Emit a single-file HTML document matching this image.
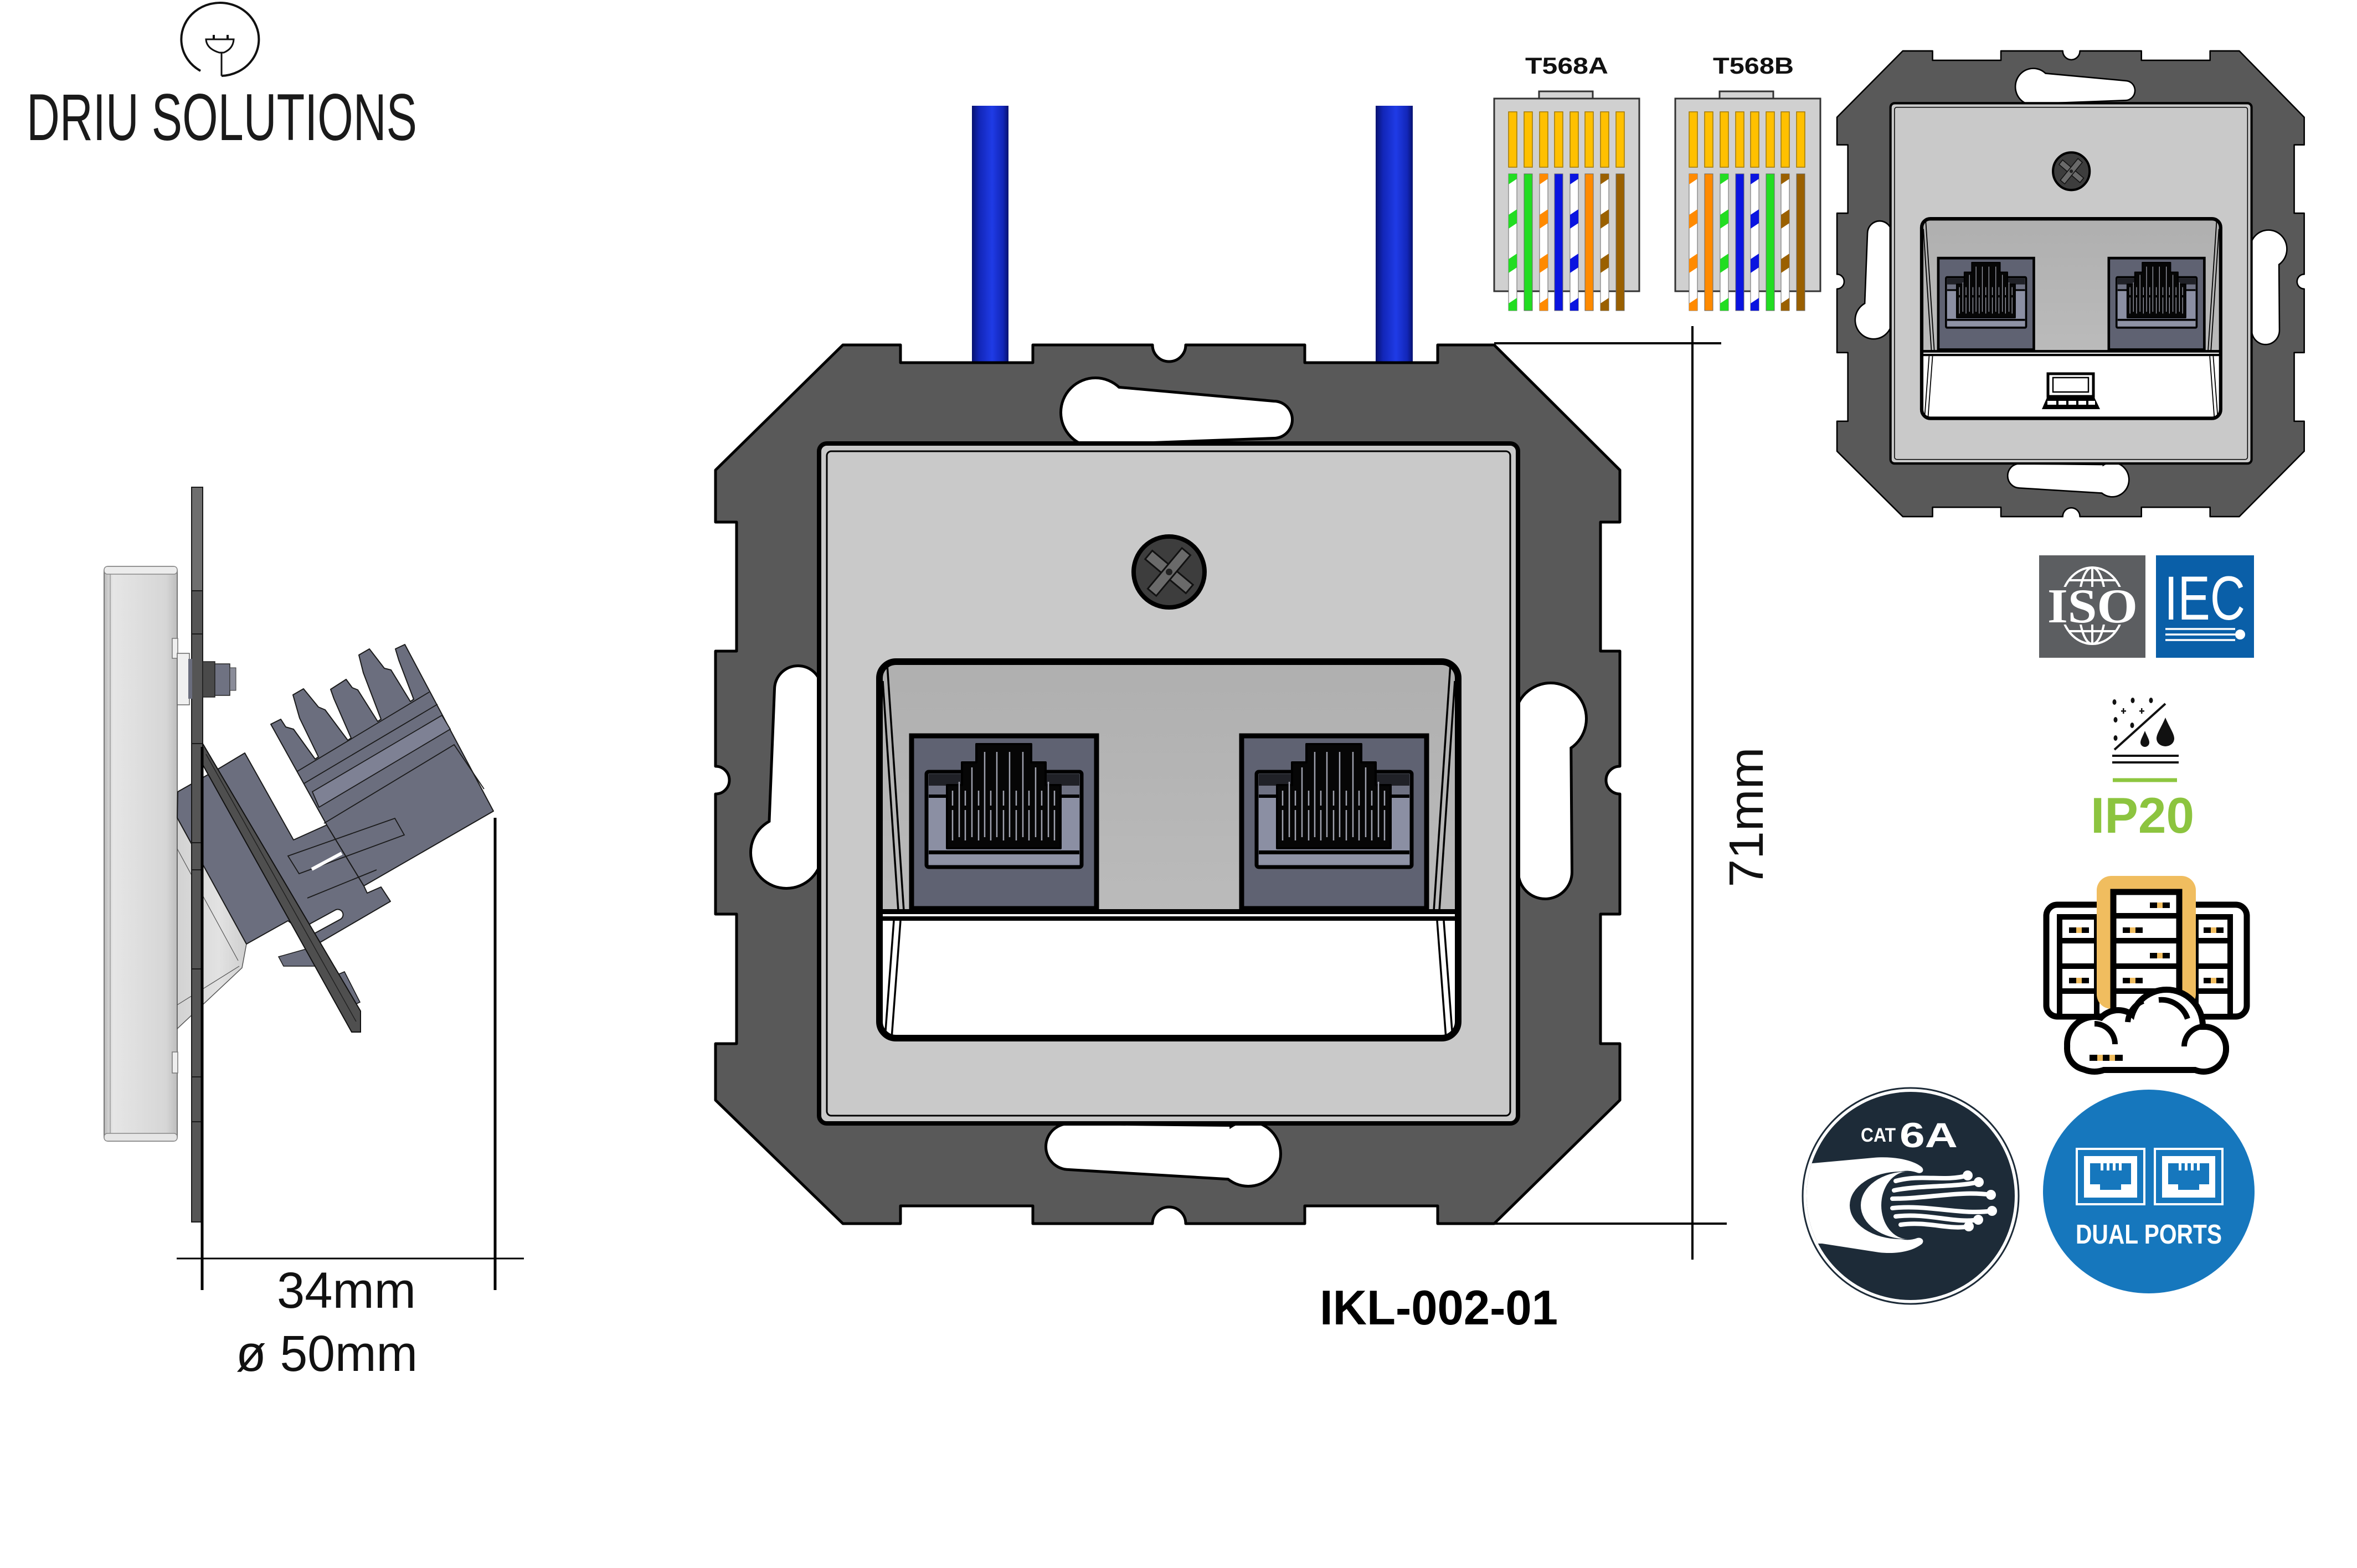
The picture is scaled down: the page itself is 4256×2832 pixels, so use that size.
<!DOCTYPE html>
<html><head><meta charset="utf-8"><title>IKL-002-01</title>
<style>
html,body{margin:0;padding:0;background:#fff;width:4256px;height:2832px;overflow:hidden;}
svg{display:block;}
text{font-family:"Liberation Sans",sans-serif;}
</style></head><body>
<svg xmlns="http://www.w3.org/2000/svg" width="4256" height="2832" viewBox="0 0 4256 2832">
<defs>
<linearGradient id="wb" x1="0" y1="0" x2="1" y2="0">
<stop offset="0" stop-color="#081270"/><stop offset="0.2" stop-color="#1226b8"/><stop offset="0.55" stop-color="#1f3be6"/><stop offset="0.85" stop-color="#1226b8"/><stop offset="1" stop-color="#081270"/>
</linearGradient>
<linearGradient id="pb" x1="0" y1="0" x2="1" y2="0">
<stop offset="0" stop-color="#b9b9b9"/><stop offset="0.12" stop-color="#e6e6e6"/><stop offset="0.85" stop-color="#d6d6d6"/><stop offset="1" stop-color="#bdbdbd"/>
</linearGradient>
<linearGradient id="lt" x1="0" y1="0" x2="1" y2="0">
<stop offset="0" stop-color="#d2d2d2"/><stop offset="0.6" stop-color="#e2e2e2"/><stop offset="1" stop-color="#cfcfcf"/>
</linearGradient>
<linearGradient id="rg" x1="0" y1="0" x2="0" y2="1">
<stop offset="0" stop-color="#afafaf"/><stop offset="1" stop-color="#bbbbbb"/>
</linearGradient>
<pattern id="sG" patternUnits="userSpaceOnUse" x="0" y="370" width="15" height="80"><polygon points="0,18 15,8 15,33 0,43" fill="#22dd22"/></pattern>
<pattern id="sO" patternUnits="userSpaceOnUse" x="0" y="370" width="15" height="80"><polygon points="0,18 15,8 15,33 0,43" fill="#ff8a00"/></pattern>
<pattern id="sB" patternUnits="userSpaceOnUse" x="0" y="370" width="15" height="80"><polygon points="0,18 15,8 15,33 0,43" fill="#0a14e0"/></pattern>
<pattern id="sN" patternUnits="userSpaceOnUse" x="0" y="370" width="15" height="80"><polygon points="0,18 15,8 15,33 0,43" fill="#9a6000"/></pattern>
<clipPath id="rc"><rect x="1588" y="1195" width="1045" height="680" rx="30"/></clipPath>
<clipPath id="catclip"><circle cx="3450" cy="2160" r="188"/></clipPath>

<g id="port">
<rect x="1646" y="1329" width="334" height="312" fill="#5f6272" stroke="#000" stroke-width="9"/>
<rect x="1673" y="1394" width="280" height="172" rx="4" fill="#8b8fa3" stroke="#000" stroke-width="7"/>
<rect x="1677" y="1398" width="272" height="21" fill="#202127"/>
<rect x="1677" y="1419" width="272" height="16" fill="#6e7182"/>
<rect x="1677" y="1435" width="272" height="6" fill="#000"/>
<rect x="1677" y="1536" width="272" height="7" fill="#000"/>
<rect x="1677" y="1543" width="272" height="16" fill="#8e92a5"/>
<path d="M1710,1532 L1710,1418 L1737,1418 L1737,1377 L1763,1377 L1763,1344 L1862,1344 L1862,1377 L1888,1377 L1888,1418 L1915,1418 L1915,1532 Z" fill="#060606" stroke="#000" stroke-width="4" stroke-linejoin="round"/>
<g stroke="#9fa1ae" stroke-width="2.5">
<line x1="1732" y1="1412" x2="1732" y2="1512"/>
<line x1="1755" y1="1386" x2="1755" y2="1512"/>
<line x1="1778" y1="1358" x2="1778" y2="1512"/>
<line x1="1800" y1="1358" x2="1800" y2="1512"/>
<line x1="1823" y1="1358" x2="1823" y2="1512"/>
<line x1="1847" y1="1358" x2="1847" y2="1512"/>
<line x1="1870" y1="1386" x2="1870" y2="1512"/>
<line x1="1893" y1="1412" x2="1893" y2="1512"/>
</g>
<g stroke="#9fa1ae" stroke-width="2.5" stroke-dasharray="27 8 55 200">
<line x1="1720" y1="1428" x2="1720" y2="1518"/>
<line x1="1743" y1="1428" x2="1743" y2="1518"/>
<line x1="1767" y1="1428" x2="1767" y2="1518"/>
<line x1="1789" y1="1428" x2="1789" y2="1518"/>
<line x1="1812" y1="1428" x2="1812" y2="1518"/>
<line x1="1835" y1="1428" x2="1835" y2="1518"/>
<line x1="1858" y1="1428" x2="1858" y2="1518"/>
<line x1="1881" y1="1428" x2="1881" y2="1518"/>
<line x1="1904" y1="1428" x2="1904" y2="1518"/>
</g>
</g>

<g id="dev">
<path d="M1522,623 L1626,623 L1626,655 L1865,655 L1865,623 L2081,623 A30,30 0 0 0 2141,623 L2356,623 L2356,655 L2596,655 L2596,623 L2698,623 L2925,849 L2925,943 L2890,943 L2890,1176 L2925,1176 L2925,1384 A25,25 0 0 0 2925,1434 L2925,1651 L2890,1651 L2890,1885 L2925,1885 L2925,1987 L2698,2210 L2596,2210 L2596,2178 L2356,2178 L2356,2210 L2141,2210 A30,30 0 0 0 2081,2210 L1865,2210 L1865,2178 L1626,2178 L1626,2210 L1522,2210 L1292,1987 L1292,1885 L1330,1885 L1330,1651 L1292,1651 L1292,1434 A25,25 0 0 0 1292,1384 L1292,1176 L1330,1176 L1330,943 L1292,943 L1292,849 Z" fill="#595959" stroke="#000" stroke-width="5" stroke-linejoin="round"/>
<g fill="#fff" stroke="#000" stroke-width="10">
<circle cx="1978" cy="745" r="60"/>
<path d="M2000,700 L2300,727 A31,31 0 0 1 2300,789 L2000,800 Z"/>
<circle cx="2254" cy="2084" r="56"/>
<path d="M1930,2032 L2220,2035 L2230,2128 L1930,2110 A39,39 0 0 1 1930,2032 Z"/>
<circle cx="1420" cy="1540" r="62"/>
<path d="M1401,1245 A40,40 0 0 1 1481,1245 L1481,1540 L1390,1520 Z"/>
<circle cx="2800" cy="1298" r="62"/>
<path d="M2740,1298 L2834,1310 L2836,1575 A46,46 0 0 1 2744,1575 Z"/>
</g>
<g fill="#fff">
<circle cx="1978" cy="745" r="60"/>
<path d="M2000,700 L2300,727 A31,31 0 0 1 2300,789 L2000,800 Z"/>
<circle cx="2254" cy="2084" r="56"/>
<path d="M1930,2032 L2220,2035 L2230,2128 L1930,2110 A39,39 0 0 1 1930,2032 Z"/>
<circle cx="1420" cy="1540" r="62"/>
<path d="M1401,1245 A40,40 0 0 1 1481,1245 L1481,1540 L1390,1520 Z"/>
<circle cx="2800" cy="1298" r="62"/>
<path d="M2740,1298 L2834,1310 L2836,1575 A46,46 0 0 1 2744,1575 Z"/>
</g>
<rect x="1479" y="801" width="1262" height="1228" rx="14" fill="#c9c9c9" stroke="#000" stroke-width="8"/>
<rect x="1493" y="815" width="1234" height="1200" rx="8" fill="none" stroke="#000" stroke-width="3"/>
<circle cx="2111" cy="1033" r="64" fill="#3d3d3d" stroke="#000" stroke-width="8"/>
<g transform="translate(2111,1033) rotate(40)">
<rect x="-48" y="-10" width="96" height="20" fill="#6a6a6a" stroke="#111" stroke-width="3"/>
<rect x="-10" y="-48" width="20" height="96" fill="#6a6a6a" stroke="#111" stroke-width="3"/>
<circle cx="0" cy="0" r="6" fill="#222"/>
</g>
<g clip-path="url(#rc)">
<rect x="1580" y="1190" width="1060" height="460" fill="url(#rg)"/>
<rect x="1580" y="1650" width="1060" height="240" fill="#fff"/>
<rect x="1580" y="1642" width="1060" height="9" fill="#000"/>
<rect x="1580" y="1655" width="1060" height="8" fill="#000"/>
<g stroke="#000" stroke-width="3.5" fill="none">
<line x1="1602" y1="1200" x2="1632" y2="1645"/>
<line x1="1594" y1="1230" x2="1622" y2="1645"/>
<line x1="1626" y1="1663" x2="1610" y2="1875"/>
<line x1="1614" y1="1663" x2="1598" y2="1875"/>
<line x1="2619" y1="1200" x2="2589" y2="1645"/>
<line x1="2627" y1="1230" x2="2599" y2="1645"/>
<line x1="2595" y1="1663" x2="2611" y2="1875"/>
<line x1="2607" y1="1663" x2="2623" y2="1875"/>
</g>
</g>
<use href="#port"/>
<use href="#port" x="596"/>
<rect x="1588" y="1195" width="1045" height="680" rx="30" fill="none" stroke="#000" stroke-width="12"/>
</g>
</defs>

<!-- LOGO -->
<path d="M400,137 A70,66 0 1 0 362,128" fill="none" stroke="#111" stroke-width="4"/>
<path d="M372,71 L422,71 Q421,88 404,95 L396,95 Q373,88 372,71 Z" fill="none" stroke="#111" stroke-width="3"/>
<line x1="386" y1="63" x2="386" y2="71" stroke="#111" stroke-width="4"/>
<line x1="411" y1="63" x2="411" y2="71" stroke="#111" stroke-width="4"/>
<line x1="400" y1="95" x2="400" y2="137" stroke="#111" stroke-width="3"/>
<text x="48" y="253" font-size="120" fill="#1a1a1a" textLength="705" lengthAdjust="spacingAndGlyphs">DRIU SOLUTIONS</text>

<!-- SIDE VIEW -->
<rect x="188" y="1023" width="132" height="1038" rx="8" fill="url(#pb)" stroke="#777" stroke-width="2"/>
<line x1="199" y1="1030" x2="199" y2="2054" stroke="#999" stroke-width="1.5"/>
<rect x="188" y="1023" width="132" height="14" rx="6" fill="#ececec" stroke="#888" stroke-width="1.5"/>
<rect x="188" y="2047" width="132" height="14" rx="6" fill="#e6e6e6" stroke="#888" stroke-width="1.5"/>
<rect x="311" y="1153" width="10" height="36" fill="#eee" stroke="#777" stroke-width="1.5"/>
<rect x="311" y="1900" width="10" height="38" fill="#eee" stroke="#777" stroke-width="1.5"/>
<rect x="320" y="1180" width="22" height="93" fill="#f0f0f0" stroke="#666" stroke-width="1.5"/>
<polygon points="320,1477 445,1705 437,1748 320,1858" fill="url(#lt)" stroke="#555" stroke-width="1.5"/>
<line x1="320" y1="1533" x2="430" y2="1735" stroke="#555" stroke-width="1.2"/>
<line x1="320" y1="1815" x2="432" y2="1745" stroke="#555" stroke-width="1.2"/>
<polygon points="321,1430 397,1387 442,1360 530,1517 590,1490 657,1600 663,1613 688,1602 705,1628 573,1705 520,1663 445,1705 320,1477" fill="#6b6e7e" stroke="#1a1a1a" stroke-width="2" stroke-linejoin="round"/>
<polygon points="503,1728 567,1710 570,1745 512,1745" fill="#6b6e7e" stroke="#1a1a1a" stroke-width="1.5"/>
<polygon points="489,1308 507,1299 516,1313 530,1317 569,1371 575,1367 541,1297 529,1255 548,1244 575,1277 587,1282 628,1337 634,1333 603,1262 597,1245 625,1227 636,1242 646,1246 682,1303 688,1299 656,1215 648,1183 667,1172 694,1207 706,1210 741,1267 747,1263 720,1192 714,1172 731,1164 891,1465 657,1600 590,1490" fill="#6b6e7e" stroke="#1a1a1a" stroke-width="2" stroke-linejoin="round"/>
<g stroke="#1a1a1a" stroke-width="1.8" fill="none">
<line x1="537" y1="1393" x2="775" y2="1250"/>
<line x1="549" y1="1415" x2="790" y2="1272"/>
<polygon points="564,1430 798,1292 813,1317 576,1458" fill="#7e8194"/>
<polyline points="585,1487 820,1345 874,1425"/>
<polygon points="520,1546 713,1478 730,1508 540,1578"/>
<line x1="555" y1="1622" x2="680" y2="1571"/>
</g>
<line x1="563" y1="1570" x2="617" y2="1541" stroke="#fff" stroke-width="6"/>
<line x1="566" y1="1676" x2="610" y2="1652" stroke="#1a1a1a" stroke-width="21" stroke-linecap="round"/>
<line x1="566" y1="1676" x2="610" y2="1652" stroke="#fff" stroke-width="17" stroke-linecap="round"/>
<rect x="346" y="880" width="20" height="1327" fill="#555" stroke="#1a1a1a" stroke-width="2"/>
<rect x="346" y="880" width="20" height="187" fill="#6e6e6e" stroke="#1a1a1a" stroke-width="2"/>
<g stroke="#1a1a1a" stroke-width="2">
<line x1="346" y1="1145" x2="366" y2="1145"/>
<line x1="346" y1="1343" x2="366" y2="1343"/>
<line x1="346" y1="1522" x2="366" y2="1522"/>
<line x1="346" y1="1571" x2="366" y2="1571"/>
<line x1="346" y1="1750" x2="366" y2="1750"/>
<line x1="346" y1="1945" x2="366" y2="1945"/>
<line x1="346" y1="2026" x2="366" y2="2026"/>
</g>
<polygon points="603,1763 622,1755 650,1810 635,1817" fill="#6b6e7e" stroke="#111" stroke-width="1.5"/>
<polygon points="366,1343 651,1826 651,1864 635,1864 366,1381" fill="#4f4f4f" stroke="#111" stroke-width="2"/>
<line x1="372" y1="1362" x2="643" y2="1845" stroke="#222" stroke-width="1.5"/>
<rect x="340" y="1190" width="7" height="72" fill="#6a6d7d"/>
<rect x="366" y="1195" width="22" height="64" fill="#4a4a4a" stroke="#222" stroke-width="1.5"/>
<rect x="388" y="1199" width="27" height="57" fill="#6f7282" stroke="#222" stroke-width="1.5"/>
<rect x="415" y="1206" width="11" height="41" fill="#8a8c99" stroke="#333" stroke-width="1"/>
<line x1="365" y1="1349" x2="365" y2="2330" stroke="#000" stroke-width="5"/>
<line x1="894" y1="1477" x2="894" y2="2330" stroke="#000" stroke-width="5"/>
<line x1="319" y1="2273" x2="946" y2="2273" stroke="#000" stroke-width="3"/>
<text x="500" y="2362" font-size="92" fill="#111" textLength="251" lengthAdjust="spacingAndGlyphs">34mm</text>
<text x="426" y="2476" font-size="92" fill="#111" textLength="328" lengthAdjust="spacingAndGlyphs">ø 50mm</text>

<!-- MAIN FRONT VIEW -->
<rect x="1755" y="191" width="66" height="470" fill="url(#wb)"/>
<rect x="2484" y="191" width="67" height="470" fill="url(#wb)"/>
<use href="#dev"/>
<g stroke="#000" stroke-width="4">
<line x1="2698" y1="620" x2="3108" y2="620"/>
<line x1="2698" y1="2210" x2="3118" y2="2210"/>
<line x1="3056" y1="589" x2="3056" y2="2275"/>
</g>
<text transform="translate(3183,1476) rotate(-90)" text-anchor="middle" font-size="87" fill="#111" textLength="253" lengthAdjust="spacingAndGlyphs">71mm</text>
<text x="2383" y="2392" font-size="88" font-weight="bold" fill="#000" textLength="430" lengthAdjust="spacingAndGlyphs">IKL-002-01</text>

<!-- T568 -->
<text x="2829" y="133" font-size="42" font-weight="bold" text-anchor="middle" fill="#111" textLength="150" lengthAdjust="spacingAndGlyphs">T568A</text>
<text x="3166" y="133" font-size="42" font-weight="bold" text-anchor="middle" fill="#111" textLength="146" lengthAdjust="spacingAndGlyphs">T568B</text>
<rect x="2779" y="165" width="97" height="14" fill="#d4d4d4" stroke="#333" stroke-width="3"/>
<rect x="2698" y="178" width="262" height="348" fill="#d0d0d0" stroke="#333" stroke-width="3"/>
<rect x="3105" y="165" width="97" height="14" fill="#d4d4d4" stroke="#333" stroke-width="3"/>
<rect x="3025" y="178" width="262" height="348" fill="#d0d0d0" stroke="#333" stroke-width="3"/>
<g fill="#ffc000" stroke="#a07800" stroke-width="1.5">
<rect x="2724" y="202" width="15" height="100"/><rect x="2752" y="202" width="15" height="100"/><rect x="2780" y="202" width="15" height="100"/><rect x="2807" y="202" width="15" height="100"/><rect x="2835" y="202" width="15" height="100"/><rect x="2862" y="202" width="15" height="100"/><rect x="2890" y="202" width="15" height="100"/><rect x="2918" y="202" width="15" height="100"/>
<rect x="3050" y="202" width="15" height="100"/><rect x="3078" y="202" width="15" height="100"/><rect x="3106" y="202" width="15" height="100"/><rect x="3134" y="202" width="15" height="100"/><rect x="3161" y="202" width="15" height="100"/><rect x="3189" y="202" width="15" height="100"/><rect x="3216" y="202" width="15" height="100"/><rect x="3244" y="202" width="15" height="100"/>
</g>
<g stroke="#666" stroke-width="1">
<g transform="translate(2724,0)"><rect y="314" width="15" height="247" fill="#fff"/><rect y="314" width="15" height="247" fill="url(#sG)" stroke="none"/></g>
<rect x="2752" y="314" width="15" height="247" fill="#22dd22"/>
<g transform="translate(2780,0)"><rect y="314" width="15" height="247" fill="#fff"/><rect y="314" width="15" height="247" fill="url(#sO)" stroke="none"/></g>
<rect x="2807" y="314" width="15" height="247" fill="#0a14e0"/>
<g transform="translate(2835,0)"><rect y="314" width="15" height="247" fill="#fff"/><rect y="314" width="15" height="247" fill="url(#sB)" stroke="none"/></g>
<rect x="2862" y="314" width="15" height="247" fill="#ff8a00"/>
<g transform="translate(2890,0)"><rect y="314" width="15" height="247" fill="#fff"/><rect y="314" width="15" height="247" fill="url(#sN)" stroke="none"/></g>
<rect x="2918" y="314" width="15" height="247" fill="#9a6000"/>
<g transform="translate(3050,0)"><rect y="314" width="15" height="247" fill="#fff"/><rect y="314" width="15" height="247" fill="url(#sO)" stroke="none"/></g>
<rect x="3078" y="314" width="15" height="247" fill="#ff8a00"/>
<g transform="translate(3106,0)"><rect y="314" width="15" height="247" fill="#fff"/><rect y="314" width="15" height="247" fill="url(#sG)" stroke="none"/></g>
<rect x="3134" y="314" width="15" height="247" fill="#0a14e0"/>
<g transform="translate(3161,0)"><rect y="314" width="15" height="247" fill="#fff"/><rect y="314" width="15" height="247" fill="url(#sB)" stroke="none"/></g>
<rect x="3189" y="314" width="15" height="247" fill="#22dd22"/>
<g transform="translate(3216,0)"><rect y="314" width="15" height="247" fill="#fff"/><rect y="314" width="15" height="247" fill="url(#sN)" stroke="none"/></g>
<rect x="3244" y="314" width="15" height="247" fill="#9a6000"/>
</g>

<!-- SMALL VIEW -->
<use href="#dev" transform="translate(2649.6,-238.2) scale(0.5166,0.530)"/>
<rect x="3698" y="675" width="82" height="41" fill="#fff" stroke="#000" stroke-width="5"/>
<rect x="3707" y="682" width="64" height="26" fill="#fff" stroke="#000" stroke-width="2.5"/>
<path d="M3697,716 L3781,716 L3792,739 L3687,739 Z" fill="#000"/>
<rect x="3697" y="724" width="86" height="7" fill="#fff"/>
<g fill="#000"><rect x="3713" y="724" width="4" height="7"/><rect x="3731" y="724" width="4" height="7"/><rect x="3749" y="724" width="4" height="7"/><rect x="3767" y="724" width="4" height="7"/></g>

<!-- ISO / IEC -->
<rect x="3682" y="1003" width="192" height="185" fill="#5c5e61"/>
<g fill="none" stroke="#fff" stroke-width="4">
<ellipse cx="3778" cy="1094" rx="57" ry="69"/>
<ellipse cx="3778" cy="1094" rx="24" ry="69"/>
<line x1="3778" y1="1025" x2="3778" y2="1163"/>
<line x1="3735" y1="1048" x2="3821" y2="1048"/>
<line x1="3735" y1="1140" x2="3821" y2="1140"/>
</g>
<rect x="3690" y="1060" width="176" height="68" fill="#5c5e61"/>
<text x="3697" y="1124" font-weight="bold" font-size="88" fill="#fff" textLength="163" lengthAdjust="spacingAndGlyphs" style="font-family:'Liberation Serif',serif">ISO</text>
<rect x="3893" y="1003" width="177" height="185" fill="#0a5fa8"/>
<text x="3908" y="1119" font-size="112" fill="#fff" textLength="146" lengthAdjust="spacingAndGlyphs">IEC</text>
<g stroke="#fff" stroke-width="3.5">
<line x1="3910" y1="1136" x2="4036" y2="1136"/>
<line x1="3910" y1="1146" x2="4036" y2="1146"/>
<line x1="3910" y1="1156" x2="4036" y2="1156"/>
</g>
<circle cx="4045" cy="1146" r="9" fill="#fff"/>

<!-- IP20 -->
<g fill="#111">
<ellipse cx="3818" cy="1268" rx="3.5" ry="5"/>
<ellipse cx="3851" cy="1265" rx="3.5" ry="5"/>
<ellipse cx="3884" cy="1265" rx="3.5" ry="5"/>
<ellipse cx="3820" cy="1300" rx="3.5" ry="5"/>
<ellipse cx="3850" cy="1310" rx="3.5" ry="5"/>
<ellipse cx="3820" cy="1333" rx="3.5" ry="5"/>
<rect x="3830" y="1283" width="9" height="2.5"/><rect x="3833" y="1279" width="2.5" height="10"/>
<rect x="3863" y="1283" width="9" height="2.5"/><rect x="3866" y="1279" width="2.5" height="10"/>
<path d="M3910,1296 C3918,1315 3926,1325 3926,1334 A16,14 0 0 1 3894,1334 C3894,1325 3902,1315 3910,1296 Z"/>
<path d="M3873,1320 C3877,1330 3881,1336 3881,1341 A8,8 0 0 1 3865,1341 C3865,1336 3869,1330 3873,1320 Z"/>
</g>
<line x1="3818" y1="1354" x2="3910" y2="1271" stroke="#111" stroke-width="4"/>
<line x1="3814" y1="1365" x2="3934" y2="1365" stroke="#111" stroke-width="4"/>
<line x1="3814" y1="1377" x2="3934" y2="1377" stroke="#111" stroke-width="4"/>
<line x1="3815" y1="1409" x2="3931" y2="1409" stroke="#8dc63f" stroke-width="7"/>
<text x="3775" y="1504" font-size="91" font-weight="bold" fill="#8cc43f" textLength="187" lengthAdjust="spacingAndGlyphs">IP20</text>

<!-- SERVER CLOUD -->
<rect x="3695" y="1634" width="362" height="202" rx="20" fill="#fff" stroke="#000" stroke-width="11"/>
<rect x="3719" y="1656" width="67" height="180" fill="#fff" stroke="#000" stroke-width="10"/>
<rect x="3965" y="1656" width="62" height="180" fill="#fff" stroke="#000" stroke-width="10"/>
<g stroke="#000" stroke-width="10">
<line x1="3719" y1="1699" x2="3786" y2="1699"/><line x1="3719" y1="1745" x2="3786" y2="1745"/><line x1="3719" y1="1790" x2="3786" y2="1790"/>
<line x1="3965" y1="1699" x2="4027" y2="1699"/><line x1="3965" y1="1745" x2="4027" y2="1745"/><line x1="3965" y1="1790" x2="4027" y2="1790"/>
</g>
<rect x="3786" y="1582" width="179" height="240" rx="26" fill="#f0bd5f"/>
<rect x="3816" y="1611" width="119" height="240" fill="#fff" stroke="#000" stroke-width="11"/>
<g stroke="#000" stroke-width="10">
<line x1="3816" y1="1654" x2="3935" y2="1654"/><line x1="3816" y1="1699" x2="3935" y2="1699"/><line x1="3816" y1="1745" x2="3935" y2="1745"/><line x1="3816" y1="1790" x2="3935" y2="1790"/>
</g>
<g>
<rect x="3882" y="1630" width="36" height="10" fill="#000"/><rect x="3895" y="1630" width="10" height="10" fill="#f0bd5f"/>
<rect x="3833" y="1675" width="36" height="10" fill="#000"/><rect x="3846" y="1675" width="10" height="10" fill="#f0bd5f"/>
<rect x="3882" y="1721" width="36" height="10" fill="#000"/><rect x="3895" y="1721" width="10" height="10" fill="#f0bd5f"/>
<rect x="3833" y="1766" width="36" height="10" fill="#000"/><rect x="3846" y="1766" width="10" height="10" fill="#f0bd5f"/>
<rect x="3736" y="1675" width="36" height="10" fill="#000"/><rect x="3749" y="1675" width="10" height="10" fill="#f0bd5f"/>
<rect x="3736" y="1766" width="36" height="10" fill="#000"/><rect x="3749" y="1766" width="10" height="10" fill="#f0bd5f"/>
<rect x="3979" y="1675" width="36" height="10" fill="#000"/><rect x="3992" y="1675" width="10" height="10" fill="#f0bd5f"/>
<rect x="3979" y="1766" width="36" height="10" fill="#000"/><rect x="3992" y="1766" width="10" height="10" fill="#f0bd5f"/>
</g>
<g fill="#000" stroke="#000" stroke-width="22">
<circle cx="3912" cy="1853" r="60"/>
<circle cx="3825" cy="1868" r="38"/>
<circle cx="3782" cy="1886" r="44"/>
<circle cx="3979" cy="1895" r="35"/>
<rect x="3738" y="1860" width="276" height="67" rx="33"/>
</g>
<g fill="#fff">
<circle cx="3912" cy="1853" r="60"/>
<circle cx="3825" cy="1868" r="38"/>
<circle cx="3782" cy="1886" r="44"/>
<circle cx="3979" cy="1895" r="35"/>
<rect x="3738" y="1860" width="276" height="67" rx="33"/>
</g>
<g fill="none" stroke="#000" stroke-width="10">
<path d="M3782,1849 A37,37 0 0 1 3819,1886"/>
<path d="M3944,1890 A36,36 0 0 1 3980,1854"/>
<path d="M3898,1806 A50,50 0 0 1 3950,1840"/>
<path d="M3842,1846 A45,45 0 0 1 3870,1808"/>
</g>
<rect x="3773" y="1905" width="60" height="11" fill="#000"/>
<rect x="3787" y="1905" width="10" height="11" fill="#f0bd5f"/>
<rect x="3809" y="1905" width="10" height="11" fill="#f0bd5f"/>

<!-- CAT6A -->
<circle cx="3450" cy="2160" r="195" fill="none" stroke="#1d2b38" stroke-width="3"/>
<circle cx="3450" cy="2160" r="188" fill="#1d2b38"/>
<g clip-path="url(#catclip)" fill="#fff">
<path d="M3240,2104 L3383,2091 C3420,2088 3455,2095 3470,2108 C3476,2114 3470,2121 3462,2118 C3450,2114 3440,2114 3432,2116 A92,61 0 0 0 3432,2238 C3442,2240 3452,2240 3462,2236 C3470,2234 3476,2241 3470,2247 C3450,2262 3420,2265 3393,2262 L3290,2246 L3240,2246 Z"/>
<path d="M3445,2116 A85,61 0 0 0 3445,2238 A48,61 0 0 1 3445,2116 Z"/>
</g>
<g fill="none" stroke="#fff" stroke-width="8" stroke-linecap="round">
<path d="M3423,2133 C3470,2120 3510,2135 3553,2123"/>
<path d="M3420,2150 C3470,2140 3525,2145 3573,2135"/>
<path d="M3417,2165 C3480,2165 3540,2150 3595,2158"/>
<path d="M3417,2182 C3480,2175 3540,2195 3597,2187"/>
<path d="M3423,2197 C3480,2190 3530,2210 3572,2203"/>
<path d="M3432,2212 C3480,2205 3520,2222 3555,2215"/>
</g>
<g fill="#fff">
<circle cx="3553" cy="2123" r="9"/><circle cx="3573" cy="2135" r="9"/><circle cx="3595" cy="2158" r="9"/><circle cx="3597" cy="2187" r="9"/><circle cx="3572" cy="2203" r="9"/><circle cx="3555" cy="2215" r="9"/>
</g>
<text x="3360" y="2062" font-size="35" font-weight="bold" fill="#fff" textLength="63" lengthAdjust="spacingAndGlyphs">CAT</text>
<text x="3430" y="2072" font-size="63" font-weight="bold" fill="#fff" textLength="105" lengthAdjust="spacingAndGlyphs">6A</text>

<!-- DUAL PORTS -->
<ellipse cx="3880" cy="2152" rx="191" ry="184" fill="#1677bd"/>
<g>
<rect x="3750" y="2075" width="122" height="100" fill="none" stroke="#fff" stroke-width="4"/>
<rect x="3763" y="2088" width="96" height="75" fill="#fff"/>
<path d="M3774,2101 L3848,2101 L3848,2139 L3830,2139 L3830,2149 L3792,2149 L3792,2139 L3774,2139 Z" fill="#1677bd"/>
<g fill="#fff"><rect x="3793" y="2101" width="5" height="13"/><rect x="3804" y="2101" width="5" height="13"/><rect x="3815" y="2101" width="5" height="13"/><rect x="3826" y="2101" width="5" height="13"/></g>
</g>
<g transform="translate(141,0)">
<rect x="3750" y="2075" width="122" height="100" fill="none" stroke="#fff" stroke-width="4"/>
<rect x="3763" y="2088" width="96" height="75" fill="#fff"/>
<path d="M3774,2101 L3848,2101 L3848,2139 L3830,2139 L3830,2149 L3792,2149 L3792,2139 L3774,2139 Z" fill="#1677bd"/>
<g fill="#fff"><rect x="3793" y="2101" width="5" height="13"/><rect x="3804" y="2101" width="5" height="13"/><rect x="3815" y="2101" width="5" height="13"/><rect x="3826" y="2101" width="5" height="13"/></g>
</g>
<text x="3748" y="2246" font-size="49" font-weight="bold" fill="#fff" textLength="264" lengthAdjust="spacingAndGlyphs">DUAL PORTS</text>
</svg>
</body></html>
